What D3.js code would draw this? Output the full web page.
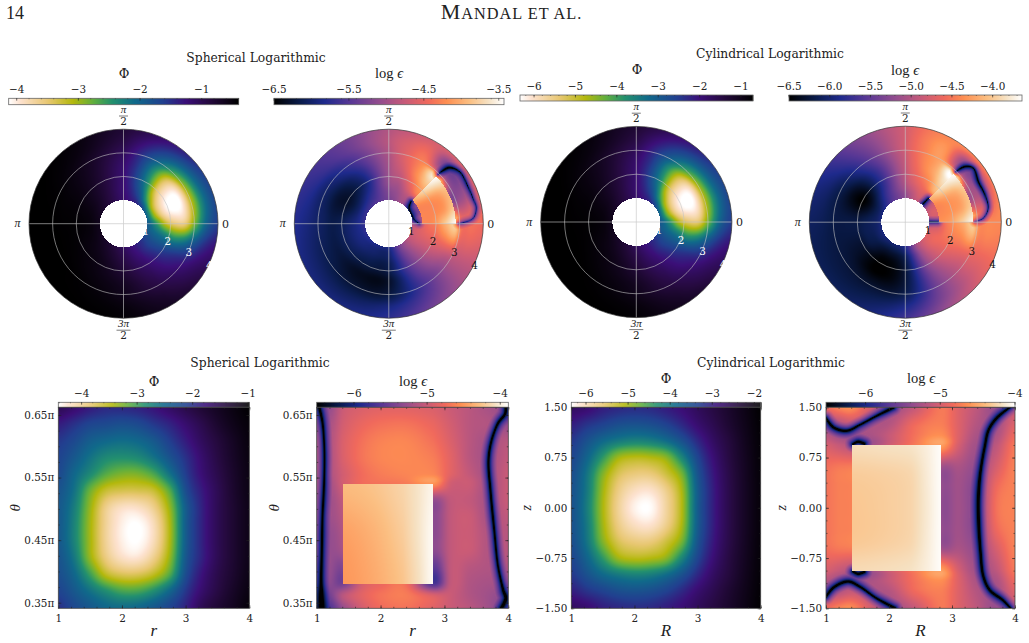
<!DOCTYPE html>
<html>
<head>
<meta charset="utf-8">
<script src="https://cdn.jsdelivr.net/npm/d3@7"></script>
<style>
html,body{margin:0;padding:0;background:#fff}
svg{display:block}
text{font-family:"DejaVu Serif",serif;fill:#222}
</style>
</head>
<body>
<svg id="fig" width="1029" height="643"></svg>
<script>
// ---- colour ramps, stops given as a fraction of the colour bar ----
const rampFractions = [0, .05, .17, .28, .37, .45, .55, .67, .77, .87, 1];
const potentialRamp = ["#ffffff", "#fde2cf", "#e8c772", "#b3b80c", "#5fae3f", "#23906e", "#10698a", "#21408f", "#3b0f78", "#260a40", "#000000"];
const emissionFractions = [0, .12, .22, .33, .46, .57, .67, .75, .85, .93, 1];
const emissionRamp = ["#000000", "#0a1c4e", "#1e2a8c", "#573795", "#944d8e", "#c75a78", "#f0695c", "#fe8f52", "#fbbf82", "#f6e1c2", "#ffffff"];

// ---- polar grids: one row per angle (degrees), one column per radius ----
const phiAngles = [0, 15, 30, 45, 60, 75, 90, 120, 150, 180, 210, 240, 270, 300, 315, 330, 345];
const phiRadii = [1, 1.4, 1.8, 2.2, 2.6, 3, 3.5, 4];
const phiSphericalPolar = [
  [-1.9, -2.5, -3.2, -3.55, -3.55, -2.85, -2.0, -1.6],
  [-2.0, -3.1, -3.85, -4.13, -4.0, -3.15, -2.2, -1.7],
  [-1.9, -3.15, -3.85, -4.13, -4.0, -3.05, -2.1, -1.65],
  [-1.6, -2.6, -3.3, -3.55, -3.4, -2.65, -1.9, -1.45],
  [-1.4, -1.85, -2.25, -2.45, -2.4, -2.05, -1.6, -1.25],
  [-1.3, -1.45, -1.6, -1.65, -1.6, -1.5, -1.25, -1.0],
  [-1.15, -1.2, -1.2, -1.2, -1.15, -1.05, -.9, -.8],
  [-.9, -.85, -.8, -.75, -.7, -.65, -.55, -.5],
  [-.7, -.6, -.55, -.5, -.48, -.45, -.42, -.4],
  [-.6, -.5, -.45, -.43, -.42, -.4, -.4, -.4],
  [-.65, -.55, -.5, -.45, -.42, -.4, -.4, -.4],
  [-.8, -.7, -.6, -.55, -.5, -.45, -.42, -.4],
  [-1.05, -.95, -.85, -.75, -.65, -.6, -.5, -.45],
  [-1.35, -1.3, -1.2, -1.1, -1.0, -.9, -.75, -.65],
  [-1.5, -1.55, -1.45, -1.35, -1.25, -1.1, -.95, -.8],
  [-1.7, -1.8, -1.8, -1.7, -1.55, -1.4, -1.15, -1.0],
  [-1.9, -2.1, -2.3, -2.5, -2.35, -1.95, -1.5, -1.25]
];
const phiCylindricalPolar = [
  [-2.95, -3.8, -4.85, -5.35, -5.35, -4.35, -3.1, -2.5],
  [-3.1, -4.7, -5.85, -6.3, -6.1, -4.8, -3.4, -2.65],
  [-2.95, -4.75, -5.85, -6.3, -6.1, -4.65, -3.25, -2.6],
  [-2.5, -3.95, -5.0, -5.35, -5.15, -4.05, -2.95, -2.3],
  [-2.2, -2.85, -3.45, -3.75, -3.7, -3.15, -2.5, -1.98],
  [-2.05, -2.28, -2.5, -2.58, -2.5, -2.35, -1.98, -1.6],
  [-1.83, -1.9, -1.9, -1.9, -1.83, -1.68, -1.45, -1.3],
  [-1.45, -1.38, -1.3, -1.23, -1.15, -1.08, -.93, -.85],
  [-1.15, -1.0, -.93, -.85, -.82, -.78, -.73, -.7],
  [-1.0, -.85, -.78, -.75, -.73, -.7, -.7, -.7],
  [-1.08, -.93, -.85, -.78, -.73, -.7, -.7, -.7],
  [-1.3, -1.15, -1.0, -.93, -.85, -.78, -.73, -.7],
  [-1.68, -1.53, -1.38, -1.23, -1.08, -1.0, -.85, -.78],
  [-2.13, -2.05, -1.9, -1.75, -1.6, -1.45, -1.23, -1.08],
  [-2.35, -2.43, -2.28, -2.13, -1.98, -1.75, -1.53, -1.3],
  [-2.65, -2.8, -2.8, -2.65, -2.43, -2.2, -1.83, -1.6],
  [-2.95, -3.25, -3.55, -3.85, -3.6, -3.0, -2.35, -1.98]
];
const epsAngles = [0, 22, 45, 60, 75, 90, 120, 150, 180, 210, 240, 270, 300, 330];
const epsRadii = [1, 1.2, 1.41, 1.7, 2, 2.4, 2.83, 3.1, 3.5, 4];
const epsSphericalPolar = [
  [-4.8, -4.7, -4.6, -4.4, -4.3, -4.0, -3.8, -4.4, -4.4, -4.45],
  [-5.0, -5.3, -5.2, -4.6, -4.4, -4.4, -5.2, -5.15, -5.0, -4.55],
  [-5.2, -5.1, -4.9, -4.3, -4.1, -3.8, -3.7, -5.0, -5.3, -4.6],
  [-5.0, -4.95, -4.85, -4.6, -4.4, -4.2, -4.2, -4.35, -4.5, -4.65],
  [-5.15, -5.1, -5.05, -4.95, -4.8, -4.65, -4.55, -4.55, -4.6, -4.75],
  [-5.3, -5.25, -5.2, -5.1, -5.05, -5.0, -4.95, -4.9, -4.85, -4.9],
  [-5.5, -5.6, -5.7, -5.85, -5.95, -5.85, -5.65, -5.55, -5.4, -5.35],
  [-5.65, -5.8, -6.0, -6.2, -6.3, -6.25, -6.05, -5.95, -5.75, -5.65],
  [-5.7, -5.8, -5.9, -6.0, -6.1, -6.15, -6.05, -6.0, -5.9, -5.8],
  [-5.75, -5.85, -5.9, -6.0, -6.1, -6.2, -6.15, -6.1, -6.0, -5.9],
  [-5.85, -5.95, -6.0, -6.1, -6.2, -6.35, -6.3, -6.2, -6.05, -5.9],
  [-5.85, -5.95, -6.0, -6.1, -6.15, -6.3, -6.25, -6.15, -5.9, -5.75],
  [-5.2, -5.2, -5.25, -5.3, -5.35, -5.45, -5.55, -5.55, -5.45, -5.3],
  [-4.75, -4.72, -4.7, -4.7, -4.7, -4.75, -4.85, -4.85, -4.85, -4.85]
];
const epsCylindricalPolar = [
  [-4.9, -4.85, -4.8, -4.5, -4.35, -4.2, -4.0, -4.4, -4.4, -4.4],
  [-4.85, -4.75, -4.7, -4.4, -4.3, -4.25, -5.1, -5.05, -5.1, -4.45],
  [-5.2, -5.1, -4.9, -4.2, -4.0, -3.8, -3.7, -5.0, -5.2, -4.4],
  [-4.9, -4.8, -4.7, -4.5, -4.35, -4.2, -4.2, -4.3, -4.35, -4.4],
  [-5.0, -4.95, -4.85, -4.7, -4.6, -4.5, -4.45, -4.45, -4.45, -4.5],
  [-5.25, -5.2, -5.1, -5.0, -4.95, -4.9, -4.85, -4.8, -4.8, -4.8],
  [-5.55, -5.6, -5.65, -5.75, -5.8, -5.75, -5.6, -5.5, -5.4, -5.3],
  [-5.9, -6.05, -6.2, -6.4, -6.5, -6.4, -6.2, -6.1, -5.95, -5.85],
  [-5.95, -6.05, -6.1, -6.15, -6.2, -6.2, -6.2, -6.18, -6.12, -6.08],
  [-5.95, -6.05, -6.15, -6.2, -6.3, -6.3, -6.25, -6.22, -6.18, -6.12],
  [-6.0, -6.15, -6.3, -6.45, -6.5, -6.5, -6.35, -6.25, -6.15, -6.05],
  [-5.85, -5.95, -6.1, -6.2, -6.25, -6.25, -6.2, -6.1, -5.9, -5.7],
  [-5.0, -5.0, -5.05, -5.1, -5.15, -5.25, -5.3, -5.3, -5.25, -5.1],
  [-4.7, -4.65, -4.6, -4.6, -4.6, -4.65, -4.7, -4.7, -4.7, -4.65]
];

// heated wedge seen in the polar emission maps
const wedgeRadii = [1.41, 1.9, 2.4, 2.83];
const wedgeAngles = [0, 15, 30, 45];
const wedgeSpherical = [
  [-4.25, -4.2, -3.8, -3.45],
  [-4.25, -4.25, -4.15, -3.85],
  [-4.25, -4.2, -4.1, -3.9],
  [-4.0, -3.75, -3.55, -3.45]
];
const wedgeCylindrical = [
  [-4.35, -4.25, -3.95, -3.68],
  [-4.4, -4.35, -4.25, -4.0],
  [-4.4, -4.3, -4.2, -4.0],
  [-4.15, -3.9, -3.75, -3.66]
];

// zero-crossing curves of the polar emission maps: [radius, angle in degrees]
const polarCurvesSpherical = [
  [[1.33, 45], [1.12, 40], [1.05, 33], [1.05, 18], [1.1, 8], [1.3, 0]],
  [[2.93, 45], [3.2, 44.5], [3.5, 42.7], [3.72, 36], [3.7, 25], [3.72, 17], [3.76, 10], [3.57, 3.6], [3.14, .8], [2.95, 0]]
];
const polarCurvesCylindrical = [
  [[1.38, 46], [1.05, 46]],
  [[.98, .8], [1.38, .5]],
  [[2.97, 45], [3.4, 43], [3.62, 38.4], [3.48, 29], [3.51, 18.8], [3.5, 9.5], [3.25, 2.9], [2.9, .4]]
];

// ---- rectangular grids: one row per vertical position, one column per radius ----
const radialColumns = [1, 1.25, 1.5, 1.75, 2, 2.25, 2.5, 2.75, 3, 3.25, 3.5, 3.75, 4];
const thetaRows = [.662, .636, .609, .582, .556, .529, .502, .476, .449, .422, .396, .369, .342];
const phiSphericalBox = [
  [-1.55, -1.7, -1.85, -1.95, -1.95, -1.9, -1.8, -1.65, -1.5, -1.35, -1.22, -1.1, -1.0],
  [-1.85, -2.0, -2.15, -2.2, -2.25, -2.2, -2.05, -1.9, -1.7, -1.5, -1.3, -1.15, -1.05],
  [-2.05, -2.2, -2.4, -2.5, -2.55, -2.5, -2.35, -2.1, -1.85, -1.6, -1.4, -1.22, -1.08],
  [-2.15, -2.35, -2.6, -2.8, -2.85, -2.8, -2.6, -2.3, -2.0, -1.7, -1.45, -1.25, -1.1],
  [-2.2, -2.5, -2.8, -3.1, -3.25, -3.25, -3.05, -2.6, -2.1, -1.75, -1.5, -1.28, -1.12],
  [-2.3, -2.6, -3.2, -3.6, -3.7, -3.7, -3.6, -3.1, -2.25, -1.85, -1.55, -1.3, -1.13],
  [-2.35, -2.7, -3.35, -3.95, -4.2, -4.2, -3.95, -3.35, -2.4, -1.9, -1.55, -1.32, -1.15],
  [-2.35, -2.75, -3.4, -4.0, -4.33, -4.42, -4.15, -3.45, -2.4, -1.9, -1.55, -1.32, -1.15],
  [-2.35, -2.75, -3.4, -4.0, -4.33, -4.42, -4.15, -3.45, -2.4, -1.9, -1.55, -1.32, -1.15],
  [-2.3, -2.65, -3.35, -3.9, -4.2, -4.25, -3.95, -3.35, -2.35, -1.9, -1.55, -1.32, -1.15],
  [-2.25, -2.5, -3.0, -3.55, -3.75, -3.75, -3.55, -3.1, -2.25, -1.8, -1.5, -1.3, -1.13],
  [-2.15, -2.35, -2.6, -2.85, -3.05, -3.05, -2.85, -2.5, -2.05, -1.7, -1.45, -1.25, -1.1],
  [-2.0, -2.2, -2.35, -2.5, -2.55, -2.5, -2.35, -2.15, -1.9, -1.55, -1.35, -1.2, -1.05]
];
const zRows = [1.5, 1.25, 1, .75, .5, .25, 0, -.25, -.5, -.75, -1, -1.25, -1.5];
const phiCylindricalBox = [
  [-2.7, -2.8, -3.0, -3.1, -3.15, -3.12, -3.0, -2.85, -2.65, -2.45, -2.25, -2.05, -1.88],
  [-3.0, -3.2, -3.35, -3.5, -3.55, -3.5, -3.35, -3.1, -2.8, -2.55, -2.3, -2.08, -1.9],
  [-3.25, -3.55, -3.85, -4.05, -4.15, -4.1, -3.9, -3.55, -3.1, -2.7, -2.4, -2.12, -1.92],
  [-3.4, -3.8, -4.4, -5.0, -5.15, -5.1, -4.9, -4.2, -3.4, -2.85, -2.45, -2.15, -1.93],
  [-3.5, -4.0, -4.85, -5.45, -5.65, -5.65, -5.35, -4.8, -3.6, -2.95, -2.5, -2.17, -1.94],
  [-3.55, -4.05, -5.0, -5.7, -6.05, -6.12, -5.75, -5.05, -3.7, -3.0, -2.52, -2.18, -1.95],
  [-3.55, -4.1, -5.05, -5.8, -6.25, -6.33, -5.85, -5.1, -3.7, -3.0, -2.52, -2.18, -1.95],
  [-3.55, -4.05, -5.0, -5.7, -6.05, -6.12, -5.75, -5.05, -3.7, -3.0, -2.52, -2.18, -1.95],
  [-3.5, -4.0, -4.85, -5.45, -5.65, -5.65, -5.35, -4.8, -3.6, -2.95, -2.5, -2.17, -1.94],
  [-3.4, -3.8, -4.4, -5.0, -5.15, -5.1, -4.9, -4.2, -3.4, -2.85, -2.45, -2.15, -1.93],
  [-3.25, -3.55, -3.85, -4.05, -4.15, -4.1, -3.9, -3.55, -3.1, -2.7, -2.4, -2.12, -1.92],
  [-3.0, -3.2, -3.35, -3.5, -3.55, -3.5, -3.35, -3.1, -2.8, -2.55, -2.3, -2.08, -1.9],
  [-2.7, -2.8, -3.0, -3.1, -3.15, -3.12, -3.0, -2.85, -2.65, -2.45, -2.25, -2.05, -1.88]
];
const boxEpsColumns = [1, 1.2, 1.41, 1.7, 2, 2.4, 2.83, 3.1, 3.4, 3.7, 4];
const boxEpsThetaRows = [.662, .636, .609, .582, .556, .542, .514, .488, .461, .434, .408, .382, .362, .341];
const epsSphericalBox = [
  [-5.3, -5.3, -5.0, -4.9, -4.85, -4.85, -4.9, -5.0, -5.1, -5.2, -5.3],
  [-5.2, -5.2, -4.95, -4.8, -4.72, -4.7, -4.8, -4.95, -5.1, -5.15, -5.3],
  [-5.1, -5.15, -4.9, -4.72, -4.62, -4.6, -4.72, -4.9, -5.1, -5.2, -5.1],
  [-5.1, -5.15, -4.9, -4.7, -4.6, -4.58, -4.65, -4.85, -5.1, -5.2, -5.05],
  [-5.1, -5.15, -4.95, -4.75, -4.65, -4.6, -4.6, -4.85, -5.05, -5.2, -5.0],
  [-5.1, -5.2, -4.95, -4.75, -4.7, -4.65, -4.5, -4.95, -5.0, -5.2, -5.0],
  [-5.15, -5.25, -5.05, -4.8, -4.8, -4.8, -5.3, -5.05, -5.05, -5.2, -5.0],
  [-5.15, -5.25, -5.1, -4.8, -4.8, -4.8, -5.35, -5.05, -5.0, -5.2, -5.05],
  [-5.2, -5.3, -5.15, -4.8, -4.8, -4.8, -5.35, -5.05, -5.0, -5.15, -5.1],
  [-5.2, -5.3, -5.2, -4.8, -4.8, -4.8, -5.35, -5.05, -5.0, -5.15, -5.1],
  [-5.3, -5.3, -5.4, -4.8, -4.8, -4.8, -5.6, -5.05, -5.1, -5.15, -5.15],
  [-5.4, -5.35, -5.5, -4.95, -4.8, -4.75, -5.75, -5.05, -5.15, -5.2, -5.2],
  [-5.7, -5.5, -5.1, -4.85, -4.7, -4.65, -4.9, -5.0, -5.15, -5.25, -5.4],
  [-5.8, -5.7, -5.3, -4.95, -4.75, -4.7, -4.85, -5.0, -5.1, -5.25, -5.5]
];
const boxEpsZRows = [1.5, 1.25, 1.1, .94, .6, .3, 0, -.3, -.6, -.94, -1.1, -1.25, -1.5];
const epsCylindricalBox = [
  [-4.85, -4.7, -4.65, -5.0, -5.3, -5.1, -4.75, -4.95, -5.15, -5.35, -5.1],
  [-5.3, -5.2, -5.1, -5.2, -5.2, -4.85, -4.72, -4.95, -5.2, -5.3, -4.95],
  [-5.2, -5.3, -5.3, -5.25, -5.1, -4.8, -4.65, -4.95, -5.25, -5.25, -4.85],
  [-5.0, -5.1, -5.2, -5.3, -5.05, -4.75, -4.55, -5.0, -5.3, -5.15, -4.75],
  [-4.8, -4.75, -4.72, -4.6, -4.6, -4.6, -5.3, -5.25, -5.35, -5.0, -4.7],
  [-4.78, -4.72, -4.7, -4.6, -4.6, -4.6, -5.35, -5.3, -5.4, -4.85, -4.7],
  [-4.78, -4.72, -4.7, -4.6, -4.6, -4.6, -5.38, -5.3, -5.4, -4.8, -4.7],
  [-4.78, -4.72, -4.7, -4.6, -4.6, -4.6, -5.35, -5.3, -5.4, -4.85, -4.7],
  [-4.8, -4.75, -4.72, -4.6, -4.6, -4.6, -5.3, -5.25, -5.35, -5.0, -4.7],
  [-5.0, -5.1, -5.2, -5.3, -5.05, -4.75, -4.55, -5.0, -5.3, -5.15, -4.75],
  [-5.2, -5.3, -5.3, -5.25, -5.1, -4.8, -4.65, -4.95, -5.25, -5.25, -4.85],
  [-5.3, -5.2, -5.1, -5.2, -5.2, -4.85, -4.72, -4.95, -5.2, -5.3, -4.95],
  [-4.85, -4.7, -4.65, -5.0, -5.3, -5.1, -4.75, -4.95, -5.15, -5.35, -5.1]
];

// uniformly heated block of the rectangular emission maps
const blockColumnsSph = [1.417, 1.9, 2.35, 2.6, 2.826];
const blockRowsSph = [.5404, .46, .3795];
const blockSpherical = [
  [-4.3, -4.25, -4.15, -4.05, -3.95],
  [-4.45, -4.35, -4.2, -4.05, -3.92],
  [-4.5, -4.4, -4.25, -4.08, -3.92]
];
const blockColumnsCyl = [1.407, 1.9, 2.35, 2.6, 2.825];
const blockRowsCyl = [.94, .5, 0, -.5, -.94];
const blockCylindrical = [
  [-4.2, -4.18, -4.16, -4.1, -4.02],
  [-4.3, -4.28, -4.24, -4.12, -4.02],
  [-4.33, -4.3, -4.25, -4.13, -4.02],
  [-4.32, -4.29, -4.24, -4.12, -4.02],
  [-4.22, -4.2, -4.17, -4.1, -4.02]
];

// zero-crossing curves of the rectangular emission maps: [radius, vertical]
const boxCurvesSpherical = [
  [[1.04, .662], [1.09, .639], [1.12, .594], [1.115, .541], [1.09, .487], [1.08, .434], [1.07, .381], [1.08, .341]],
  [[3.96, .662], [3.95, .652], [3.84, .637], [3.74, .61], [3.69, .578], [3.72, .53], [3.78, .466], [3.84, .408], [3.92, .37], [3.96, .357], [3.89, .341]]
];
const boxCurvesCylindrical = [
  [[3.92, 1.5], [3.71, 1.34], [3.58, 1.16], [3.52, .91], [3.45, .52], [3.42, .17], [3.42, -.13], [3.45, -.63], [3.5, -1.03], [3.6, -1.23], [3.81, -1.38], [3.93, -1.5]],
  [[1, 1.34], [1.12, 1.2], [1.33, 1.15], [1.54, 1.24], [1.8, 1.37], [2.08, 1.5]],
  [[1, -1.33], [1.12, -1.19], [1.35, -1.1], [1.54, -1.18], [1.8, -1.35], [2.1, -1.5]],
  [[1.43, .95], [1.51, .985], [1.62, .95]],
  [[1.43, -.95], [1.51, -.985], [1.62, -.95]]
];

// ---- tick labels ----
const barTicksPhiSph = [-4, -3, -2, -1];
const barTicksEpsSph = [-6.5, -5.5, -4.5, -3.5];
const barTicksPhiCyl = [-6, -5, -4, -3, -2, -1];
const barTicksEpsCyl = [-6.5, -6, -5.5, -5, -4.5, -4];
const radialTicks = [1, 2, 3, 4];
const radiusTicks = [1, 2, 3, 4];
const thetaTicks = [.35, .45, .55, .65];
const zTicks = [-1.5, -.75, 0, .75, 1.5];

const svg = d3.select("#fig");
const minus = s => String(s).replace("-", "\u2212");
const tickFont = 10.4;

function rampScale(domain, fractions, colors) {
  const [a, b] = domain;
  const s = d3.scaleLinear().domain(fractions.map(f => a + f * (b - a))).range(colors).clamp(true);
  const lut = d3.range(1024).map(i => d3.rgb(s(a + (b - a) * i / 1023)));
  const fn = v => s(v);
  fn.rgb = v => lut[Math.max(0, Math.min(1023, Math.round((v - a) / (b - a) * 1023)))];
  return fn;
}

// bicubic reading of a value table at fractional row and column positions
function cubic(p0, p1, p2, p3, t) {
  return p1 + .5 * t * (p2 - p0 + t * (2 * p0 - 5 * p1 + 4 * p2 - p3 + t * (3 * (p1 - p2) + p3 - p0)));
}
function readTable(table, rowPos, colPos, wrapRows) {
  const nr = table.length, nc = table[0].length;
  const ri = Math.floor(rowPos), ci = Math.floor(colPos);
  const rt = rowPos - ri, ct = colPos - ci;
  const row = i => wrapRows ? ((i % nr) + nr) % nr : Math.max(0, Math.min(nr - 1, i));
  const col = j => Math.max(0, Math.min(nc - 1, j));
  const line = [];
  for (let k = -1; k <= 2; k++) {
    const r = table[row(ri + k)];
    line.push(cubic(r[col(ci - 1)], r[col(ci)], r[col(ci + 1)], r[col(ci + 2)], ct));
  }
  return cubic(line[0], line[1], line[2], line[3], rt);
}

// evenly spaced points along a smooth curve drawn with d3.line
const curveLine = d3.line().curve(d3.curveCatmullRom.alpha(.5));
function curveSamples(points) {
  const path = document.createElementNS("http://www.w3.org/2000/svg", "path");
  path.setAttribute("d", curveLine(points));
  const len = path.getTotalLength(), out = [];
  for (let l = 0; l <= len; l += 1) { const p = path.getPointAtLength(l); out.push([p.x, p.y]); }
  return out;
}
function curveDrop(samples, x, y, reach) {
  let best = reach * reach;
  for (const s of samples) {
    const dx = s[0] - x, dy = s[1] - y, d = dx * dx + dy * dy;
    if (d < best) best = d;
  }
  if (best >= reach * reach) return 0;
  return 1.35 * Math.log10((Math.sqrt(best) + .3) / reach);
}

function paint(x0, y0, w, h, fn) {
  const cv = document.createElement("canvas");
  cv.width = w; cv.height = h;
  const ctx = cv.getContext("2d");
  const img = ctx.createImageData(w, h);
  for (let j = 0; j < h; j++) for (let i = 0; i < w; i++) {
    const c = fn(x0 + i + .5, y0 + j + .5), k = 4 * (j * w + i);
    img.data[k] = c.r; img.data[k + 1] = c.g; img.data[k + 2] = c.b; img.data[k + 3] = 255;
  }
  ctx.putImageData(img, 0, 0);
  return cv.toDataURL();
}

// horizontal colour bar with inward ticks and labels above
function colorBar(o) {
  const g = svg.append("g");
  const x = d3.scaleLinear().domain(o.domain).range([o.x0, o.x1]);
  const color = o.color;
  const n = Math.ceil(o.x1 - o.x0);
  g.selectAll("rect.c").data(d3.range(n)).join("rect").attr("class", "c")
    .attr("x", i => o.x0 + i).attr("y", o.y0).attr("width", 1.3).attr("height", o.y1 - o.y0)
    .attr("fill", i => color(x.invert(o.x0 + i + .5)));
  g.append("rect").attr("x", o.x0).attr("y", o.y0).attr("width", o.x1 - o.x0).attr("height", o.y1 - o.y0)
    .attr("fill", "none").attr("stroke", "#666").attr("stroke-width", .8);
  const minors = d3.range(Math.ceil(o.domain[0] / o.minor), Math.floor(o.domain[1] / o.minor) + 1).map(k => k * o.minor);
  g.selectAll("line.m").data(minors).join("line").attr("class", "m")
    .attr("x1", x).attr("x2", x).attr("y1", o.y0).attr("y2", o.y0 + 1)
    .attr("stroke", "#333").attr("stroke-width", .5);
  g.selectAll("line.t").data(o.ticks).join("line").attr("class", "t")
    .attr("x1", x).attr("x2", x).attr("y1", o.y0).attr("y2", o.y0 + 2.4)
    .attr("stroke", "#222").attr("stroke-width", .6);
  g.selectAll("text").data(o.ticks).join("text")
    .attr("x", x).attr("y", o.y0 - 5).attr("text-anchor", "middle").attr("font-size", tickFont)
    .text(o.fmt || minus);
}

// central label, either Φ or log ε
function symbol(kind, x, y) {
  const t = svg.append("text").attr("x", x).attr("y", y).attr("text-anchor", "middle");
  if (kind === "phi") t.attr("font-size", 13).text("\u03a6");
  else {
    t.style("font-family", '"Liberation Serif",serif').attr("font-size", 14.5);
    t.append("tspan").text("log ");
    t.append("tspan").attr("font-style", "italic").text("\u03f5");
  }
}

function fraction(x, y, top, bottom) {
  const g = svg.append("g").attr("transform", `translate(${x},${y})`);
  g.append("text").attr("y", 3.5).attr("text-anchor", "middle").attr("font-size", 11).style("font-family", '"Liberation Serif",serif').attr("font-style", "italic").text(top);
  g.append("line").attr("x1", top.length > 1 ? -7 : -4.5).attr("x2", top.length > 1 ? 7 : 4.5)
    .attr("y1", 6.6).attr("y2", 6.6).attr("stroke", "#222").attr("stroke-width", .6);
  g.append("text").attr("y", 15.8).attr("text-anchor", "middle").attr("font-size", tickFont).text(bottom);
}

let clipId = 0;
function polarPanel(o) {
  const r = d3.scaleLinear().domain([0, 4]).range([0, o.R]);
  const angleIndex = d3.scaleLinear().domain([...o.angles, 360]).range(d3.range(o.angles.length + 1));
  const radiusIndex = d3.scaleLinear().domain(o.radii).range(d3.range(o.radii.length)).clamp(true);
  const toXY = ([rad, deg]) => [o.cx + r(rad) * Math.cos(deg * Math.PI / 180), o.cy - r(rad) * Math.sin(deg * Math.PI / 180)];
  const samples = (o.curves || []).map(c => curveSamples(c.map(toXY)));
  const flat = samples.flat();
  let wedgeA, wedgeR;
  if (o.wedge) {
    wedgeA = d3.scaleLinear().domain(wedgeAngles).range(d3.range(wedgeAngles.length)).clamp(true);
    wedgeR = d3.scaleLinear().domain(wedgeRadii).range(d3.range(wedgeRadii.length)).clamp(true);
  }
  const white = d3.rgb(255, 255, 255);
  const x0 = Math.floor(o.cx - o.R) - 1, y0 = Math.floor(o.cy - o.R) - 1, size = Math.ceil(2 * o.R) + 3;
  const href = paint(x0, y0, size, size, (px, py) => {
    const dx = px - o.cx, dy = o.cy - py;
    const rad = r.invert(Math.hypot(dx, dy));
    if (rad < 1) return white;
    let deg = Math.atan2(dy, dx) * 180 / Math.PI; if (deg < 0) deg += 360;
    if (o.wedge && deg <= 45 && rad >= wedgeRadii[0] && rad <= wedgeRadii[3])
      return o.color.rgb(readTable(o.wedge, wedgeA(deg), wedgeR(rad), false));
    let v = readTable(o.grid, angleIndex(deg), radiusIndex(rad), true);
    if (flat.length) v += curveDrop(flat, px, py, 6.5);
    return o.color.rgb(v);
  });
  const id = "polar" + (clipId++);
  svg.append("clipPath").attr("id", id).append("circle").attr("cx", o.cx).attr("cy", o.cy).attr("r", o.R);
  const g = svg.append("g");
  g.append("image").attr("x", x0).attr("y", y0).attr("width", size).attr("height", size)
    .attr("href", href).attr("clip-path", `url(#${id})`);
  g.selectAll("circle.grid").data([2, 3]).join("circle").attr("class", "grid")
    .attr("cx", o.cx).attr("cy", o.cy).attr("r", r).attr("fill", "none")
    .attr("stroke", "#c4c4c4").attr("stroke-opacity", .85).attr("stroke-width", .7);
  g.selectAll("line.spoke").data([0, 90, 180, 270]).join("line").attr("class", "spoke")
    .attr("x1", o.cx).attr("y1", o.cy)
    .attr("x2", d => toXY([4, d])[0]).attr("y2", d => toXY([4, d])[1])
    .attr("stroke", "#c4c4c4").attr("stroke-opacity", .8).attr("stroke-width", .8);
  g.append("circle").attr("cx", o.cx).attr("cy", o.cy).attr("r", o.R).attr("fill", "none")
    .attr("stroke", "#333").attr("stroke-width", .7);
  g.selectAll("text.rad").data(radialTicks).join("text").attr("class", "rad")
    .attr("x", d => toXY([d * 1.01, -(18 + d * 2)])[0]).attr("y", d => toXY([d * 1.01, -(18 + d * 2)])[1] + 3.5)
    .attr("text-anchor", "middle").attr("font-size", tickFont)
    .style("fill", o.labelColor).text(d => d);
  svg.append("text").attr("x", o.cx + o.R + 7.5).attr("y", o.cy + 4).attr("text-anchor", "middle").attr("font-size", tickFont + .6).text("0");
  svg.append("text").attr("x", o.cx - o.R - 11.5).attr("y", o.cy + 3.5).attr("text-anchor", "middle").attr("font-size", 12)
    .style("font-family", '"Liberation Serif",serif').attr("font-style", "italic").text("\u03c0");
  fraction(o.cx, o.cy - o.R - 19.8, "\u03c0", "2");
  fraction(o.cx, o.cy + o.R + 5.4, "3\u03c0", "2");
}

function boxPanel(o) {
  const x = d3.scaleLinear().domain([1, 4]).range([o.x0, o.x1]);
  const y = d3.scaleLinear().domain(o.yDomain).range([o.y1, o.y0]);
  const colIndex = d3.scaleLinear().domain(o.cols).range(d3.range(o.cols.length)).clamp(true);
  const rowIndex = d3.scaleLinear().domain(o.rows).range(d3.range(o.rows.length)).clamp(true);
  const toXY = ([a, b]) => [x(a), y(b)];
  const flat = (o.curves || []).map(c => curveSamples(c.map(toXY))).flat();
  let bc, br;
  if (o.block) {
    bc = d3.scaleLinear().domain(o.blockCols).range(d3.range(o.blockCols.length)).clamp(true);
    br = d3.scaleLinear().domain(o.blockRows).range(d3.range(o.blockRows.length)).clamp(true);
  }
  const ix0 = Math.floor(o.x0), iy0 = Math.floor(o.y0), w = Math.ceil(o.x1) - ix0, h = Math.ceil(o.y1) - iy0;
  const href = paint(ix0, iy0, w, h, (px, py) => {
    const a = x.invert(px), b = y.invert(py);
    if (o.block && a >= o.blockCols[0] && a <= o.blockCols[o.blockCols.length - 1] && b >= o.blockRows[0] && b <= o.blockRows[o.blockRows.length - 1])
      return o.color.rgb(readTable(o.block, br(b), bc(a), false));
    let v = readTable(o.grid, rowIndex(b), colIndex(a), false);
    if (flat.length) v += curveDrop(flat, px, py, 9);
    return o.color.rgb(v);
  });
  const id = "box" + (clipId++);
  svg.append("clipPath").attr("id", id).append("rect").attr("x", o.x0).attr("y", o.y0).attr("width", o.x1 - o.x0).attr("height", o.y1 - o.y0);
  const g = svg.append("g");
  g.append("image").attr("x", ix0).attr("y", iy0).attr("width", w).attr("height", h).attr("href", href).attr("clip-path", `url(#${id})`);

  // inward ticks on all four sides
  const styleAxis = sel => {
    sel.select(".domain").remove();
    sel.selectAll("line").attr("stroke", "#222").attr("stroke-width", .6);
    sel.selectAll("text").attr("font-size", tickFont).attr("font-family", '"DejaVu Serif",serif').style("fill", "#222");
  };
  const xMinor = d3.range(1, 4.01, .2), yMinor = o.yMinor;
  g.append("g").attr("transform", `translate(0,${o.y1})`)
    .call(d3.axisBottom(x).tickValues(radiusTicks).tickSizeInner(-3).tickSizeOuter(0).tickPadding(6).tickFormat(d3.format("d"))).call(styleAxis);
  g.append("g").attr("transform", `translate(0,${o.y0})`)
    .call(d3.axisTop(x).tickValues(radiusTicks).tickSizeInner(-3).tickSizeOuter(0).tickFormat("")).call(styleAxis);
  g.append("g").attr("transform", `translate(${o.x0},0)`)
    .call(d3.axisLeft(y).tickValues(o.yTicks).tickSizeInner(-3).tickSizeOuter(0).tickPadding(4).tickFormat(o.yFmt)).call(styleAxis);
  g.append("g").attr("transform", `translate(${o.x1},0)`)
    .call(d3.axisRight(y).tickValues(o.yTicks).tickSizeInner(-3).tickSizeOuter(0).tickFormat("")).call(styleAxis);
  g.append("g").attr("transform", `translate(0,${o.y1})`)
    .call(d3.axisBottom(x).tickValues(xMinor).tickSizeInner(-1.5).tickSizeOuter(0).tickFormat("")).call(styleAxis);
  g.append("g").attr("transform", `translate(0,${o.y0})`)
    .call(d3.axisTop(x).tickValues(xMinor).tickSizeInner(-1.5).tickSizeOuter(0).tickFormat("")).call(styleAxis);
  g.append("g").attr("transform", `translate(${o.x0},0)`)
    .call(d3.axisLeft(y).tickValues(yMinor).tickSizeInner(-1.5).tickSizeOuter(0).tickFormat("")).call(styleAxis);
  g.append("g").attr("transform", `translate(${o.x1},0)`)
    .call(d3.axisRight(y).tickValues(yMinor).tickSizeInner(-1.5).tickSizeOuter(0).tickFormat("")).call(styleAxis);
  g.append("rect").attr("x", o.x0).attr("y", o.y0).attr("width", o.x1 - o.x0).attr("height", o.y1 - o.y0)
    .attr("fill", "none").attr("stroke", "#444").attr("stroke-width", .8);

  svg.append("text").attr("x", (o.x0 + o.x1) / 2).attr("y", 636).attr("text-anchor", "middle")
    .style("font-family", '"Liberation Serif",serif').attr("font-style", "italic").attr("font-size", o.xLabelSize).text(o.xLabel);
  svg.append("text").attr("transform", `translate(${o.yLabelX},${(o.y0 + o.y1) / 2}) rotate(-90)`).attr("text-anchor", "middle")
    .style("font-family", '"Liberation Serif",serif').attr("font-style", "italic").attr("font-size", o.yLabelSize).text(o.yLabel);
}

function title(s, x, y) {
  svg.append("text").attr("x", x).attr("y", y).attr("text-anchor", "middle").attr("font-size", 12.3).text(s);
}

// ---- running head ----
svg.append("text").attr("x", 6).attr("y", 19).style("font-family", '"Liberation Serif",serif').attr("font-size", 18).text("14");
const head = svg.append("text").attr("x", 511.5).attr("y", 19).attr("text-anchor", "middle")
  .style("font-family", '"Liberation Serif",serif').attr("font-size", 22).attr("letter-spacing", 1);
head.append("tspan").text("M");
head.append("tspan").attr("font-size", 16.3).text("ANDAL ET AL.");

// ---- colour scales for each panel ----
const domains = {
  p1: [-4.13, -.4], p2: [-6.5, -3.43], p3: [-6.34, -.71], p4: [-6.5, -3.64],
  p5: [-4.42, -.98], p6: [-6.51, -3.89], p7: [-6.35, -1.85], p8: [-6.53, -4]
};
const c1 = rampScale(domains.p1, rampFractions, potentialRamp);
const c2 = rampScale(domains.p2, emissionFractions, emissionRamp);
const c3 = rampScale(domains.p3, rampFractions, potentialRamp);
const c4 = rampScale(domains.p4, emissionFractions, emissionRamp);
const c5 = rampScale(domains.p5, rampFractions, potentialRamp);
const c6 = rampScale(domains.p6, emissionFractions, emissionRamp);
const c7 = rampScale(domains.p7, rampFractions, potentialRamp);
const c8 = rampScale(domains.p8, emissionFractions, emissionRamp);

// ---- titles ----
title("Spherical Logarithmic", 256, 62);
title("Cylindrical Logarithmic", 770, 58);
title("Spherical Logarithmic", 260, 367);
title("Cylindrical Logarithmic", 771, 367);

// ---- top row ----
colorBar({x0: 8.7, x1: 238.7, y0: 98.3, y1: 104.7, domain: domains.p1, color: c1, ticks: barTicksPhiSph, minor: .2});
colorBar({x0: 274, x1: 504, y0: 98.3, y1: 104.7, domain: domains.p2, color: c2, ticks: barTicksEpsSph, minor: .2, fmt: d => minus(d3.format(".1f")(d))});
colorBar({x0: 520, x1: 753, y0: 95, y1: 101, domain: domains.p3, color: c3, ticks: barTicksPhiCyl, minor: .2});
colorBar({x0: 789, x1: 1022, y0: 95, y1: 101, domain: domains.p4, color: c4, ticks: barTicksEpsCyl, minor: .1, fmt: d => minus(d3.format(".1f")(d))});
symbol("phi", 124, 78); symbol("eps", 389, 78); symbol("phi", 637, 74); symbol("eps", 905, 75);

polarPanel({cx: 123.5, cy: 223.7, R: 94.5, angles: phiAngles, radii: phiRadii, grid: phiSphericalPolar, color: c1, labelColor: "#fff"});
polarPanel({cx: 388.8, cy: 223.7, R: 94.5, angles: epsAngles, radii: epsRadii, grid: epsSphericalPolar, color: c2, labelColor: "#111", wedge: wedgeSpherical, curves: polarCurvesSpherical});
polarPanel({cx: 636.3, cy: 222, R: 95.6, angles: phiAngles, radii: phiRadii, grid: phiCylindricalPolar, color: c3, labelColor: "#fff"});
polarPanel({cx: 905.3, cy: 222.2, R: 96, angles: epsAngles, radii: epsRadii, grid: epsCylindricalPolar, color: c4, labelColor: "#111", wedge: wedgeCylindrical, curves: polarCurvesCylindrical});

// ---- bottom row ----
const thetaFmt = d => d3.format(".2f")(d) + "\u03c0";
const zFmt = d => minus(d3.format(".2f")(d));
const thetaMinor = d3.range(.35, .6601, .025);
const zMinor = d3.range(-1.5, 1.501, .1875);
const barTop = 402.3, boxTop = 407.3, boxBottom = 608.3;

colorBar({x0: 58.3, x1: 249.3, y0: barTop, y1: boxTop, domain: domains.p5, color: c5, ticks: barTicksPhiSph, minor: .2});
colorBar({x0: 316.7, x1: 508.3, y0: barTop, y1: boxTop, domain: domains.p6, color: c6, ticks: [-6, -5, -4], minor: .2});
colorBar({x0: 571.3, x1: 760.7, y0: barTop, y1: boxTop, domain: domains.p7, color: c7, ticks: [-6, -5, -4, -3, -2], minor: .2});
colorBar({x0: 826, x1: 1015, y0: barTop, y1: boxTop, domain: domains.p8, color: c8, ticks: [-6, -5, -4], minor: .2});
symbol("phi", 154, 386); symbol("eps", 413, 386); symbol("phi", 666, 383); symbol("eps", 921, 383);

boxPanel({x0: 58.3, x1: 249.3, y0: boxTop, y1: boxBottom, yDomain: [.3411, .6623], cols: radialColumns, rows: thetaRows.slice().reverse(),
  grid: phiSphericalBox.slice().reverse(), color: c5, yTicks: thetaTicks, yMinor: thetaMinor, yFmt: thetaFmt, xLabel: "r", xLabelSize: 17, yLabel: "\u03b8", yLabelSize: 15, yLabelX: 20});
boxPanel({x0: 316.7, x1: 508.3, y0: boxTop, y1: boxBottom, yDomain: [.3411, .6623], cols: boxEpsColumns, rows: boxEpsThetaRows.slice().reverse(),
  grid: epsSphericalBox.slice().reverse(), color: c6, yTicks: thetaTicks, yMinor: thetaMinor, yFmt: thetaFmt, xLabel: "r", xLabelSize: 17, yLabel: "\u03b8", yLabelSize: 15, yLabelX: 279,
  block: blockSpherical.slice().reverse(), blockCols: blockColumnsSph, blockRows: blockRowsSph.slice().reverse(), curves: boxCurvesSpherical});
boxPanel({x0: 571.3, x1: 760.7, y0: boxTop, y1: boxBottom, yDomain: [-1.5, 1.5], cols: radialColumns, rows: zRows.slice().reverse(),
  grid: phiCylindricalBox.slice().reverse(), color: c7, yTicks: zTicks, yMinor: zMinor, yFmt: zFmt, xLabel: "R", xLabelSize: 17, yLabel: "z", yLabelSize: 14, yLabelX: 531});
boxPanel({x0: 826, x1: 1015, y0: boxTop, y1: boxBottom, yDomain: [-1.5, 1.5], cols: boxEpsColumns, rows: boxEpsZRows.slice().reverse(),
  grid: epsCylindricalBox.slice().reverse(), color: c8, yTicks: zTicks, yMinor: zMinor, yFmt: zFmt, xLabel: "R", xLabelSize: 17, yLabel: "z", yLabelSize: 14, yLabelX: 786,
  block: blockCylindrical.slice().reverse(), blockCols: blockColumnsCyl, blockRows: blockRowsCyl.slice().reverse(), curves: boxCurvesCylindrical});
</script>
</body>
</html>
